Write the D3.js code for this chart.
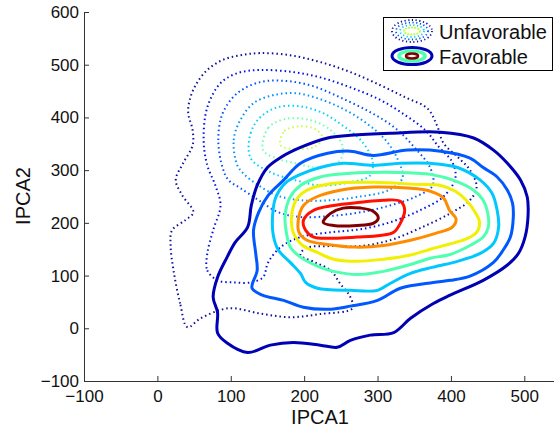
<!DOCTYPE html>
<html>
<head>
<meta charset="utf-8">
<script src="https://cdn.jsdelivr.net/npm/d3@7"></script>
<style>
  body { margin: 0; background: #fff; }
  svg { display: block; font-family: "Liberation Sans", Arial, sans-serif; }
</style>
</head>
<body>
<div id="chart"></div>
<script>
// axis ticks
const xTicks = [-100, 0, 100, 200, 300, 400, 500];
const yTicks = [-100, 0, 100, 200, 300, 400, 500, 600];
const legendLabels = ["Unfavorable", "Favorable"];

// unfavorable density contours (outer -> inner), [IPCA1, IPCA2]
const unfavColors = ["#10109c", "#0010e0", "#0050ff", "#0090ff", "#00d0ff", "#70ffb0", "#c0ff40"];
const unfav1 = [[41,2],[31,47],[22,110],[18,157],[20,186],[38,205],[49,220],[34,252],[25,281],[35,313],[48,347],[48,376],[42,408],[44,433],[52,461],[68,490],[89,509],[113,518],[140,522],[181,518],[222,505],[263,486],[304,461],[338,438],[368,417],[381,385],[390,351],[410,324],[426,300],[435,268],[426,243],[399,218],[358,190],[317,167],[277,156],[236,156],[202,152],[195,139],[215,125],[236,110],[249,85],[263,59],[266,38],[222,27],[181,21],[140,28],[97,38],[59,19]];
const unfav2 = [[68,142],[68,110],[82,91],[104,87],[127,87],[144,97],[151,125],[168,154],[195,173],[236,182],[277,188],[317,201],[358,224],[390,250],[406,285],[402,315],[383,345],[365,376],[338,404],[304,433],[263,457],[222,476],[185,486],[140,490],[109,484],[86,465],[68,419],[63,357],[68,309],[79,271],[86,233],[76,186]];
const unfav3 = [[89,304],[83,357],[89,408],[109,446],[140,467],[177,469],[213,459],[249,438],[290,410],[324,380],[351,342],[372,304],[375,271],[351,249],[317,233],[277,220],[236,213],[195,211],[165,220],[138,243],[113,266],[97,281]];
const unfav4 = [[109,309],[104,357],[113,395],[131,427],[157,442],[188,446],[219,436],[252,417],[283,391],[311,357],[328,319],[334,285],[315,262],[277,250],[236,243],[195,243],[163,252],[138,271],[120,290]];
const unfav5 = [[127,323],[127,370],[140,400],[163,419],[195,421],[226,408],[252,385],[277,357],[293,319],[290,290],[263,277],[222,271],[188,281],[154,296]];
const unfav6 = [[144,338],[151,380],[174,397],[208,395],[236,376],[252,347],[249,319],[222,305],[188,313],[161,323]];
const unfav7 = [[168,347],[173,374],[192,383],[215,378],[225,361],[215,345],[192,340]];
const unfavorable = [unfav1, unfav2, unfav3, unfav4, unfav5, unfav6, unfav7];

// favorable density contours (outer -> inner)
const favColors = ["#0000b4", "#0058ff", "#00c8ff", "#50ffb0", "#f0f000", "#ff8c00", "#ff1000", "#800000"];
const fav1 = [[123,192],[128,233],[136,271],[150,305],[168,324],[195,343],[232,361],[263,366],[317,370],[386,372],[431,361],[458,338],[477,313],[495,281],[504,249],[505,211],[501,173],[492,142],[477,120],[444,91],[399,63],[376,47],[345,19],[322,-8],[290,-13],[263,-23],[245,-36],[222,-32],[185,-27],[154,-32],[123,-46],[95,-28],[82,-9],[82,30],[76,59],[82,97],[95,135],[106,163]];
const fav2 = [[131,186],[138,220],[151,252],[172,281],[195,313],[232,332],[263,336],[294,328],[341,338],[386,336],[426,323],[444,305],[463,287],[477,262],[484,237],[485,211],[481,173],[471,148],[458,125],[426,99],[399,91],[376,87],[331,76],[300,53],[263,42],[232,36],[199,40],[172,53],[143,63],[129,76],[136,110],[134,142]];
const fav3 = [[157,214],[161,247],[174,275],[195,292],[222,305],[253,313],[294,309],[331,313],[372,313],[409,305],[440,281],[456,256],[463,224],[465,192],[458,161],[440,142],[409,127],[376,116],[345,104],[317,85],[300,72],[263,72],[218,76],[202,87],[195,104],[181,125],[165,148],[158,176]];
const fav4 = [[174,214],[181,249],[195,271],[222,287],[263,294],[311,296],[354,294],[372,292],[403,281],[431,262],[444,243],[450,220],[451,192],[444,173],[426,157],[399,140],[372,133],[345,121],[308,108],[272,102],[240,108],[218,118],[195,135],[181,154],[176,180]];
const fav5 = [[183,214],[189,243],[204,262],[240,275],[294,277],[354,273],[386,271],[406,260],[421,243],[433,220],[439,201],[435,182],[420,169],[396,159],[372,150],[345,139],[308,131],[272,127],[240,131],[218,144],[198,157],[185,182]];
const fav6 = [[192,205],[199,233],[218,250],[249,262],[294,268],[341,266],[372,260],[390,247],[398,224],[407,207],[402,192],[379,180],[345,167],[308,157],[270,154],[232,159],[204,167],[193,182]];
const fav7 = [[199,205],[213,224],[240,233],[277,239],[308,243],[331,241],[337,224],[331,199],[322,182],[304,176],[272,173],[240,171],[213,173],[202,186]];
const fav8 = [[226,201],[236,218],[253,228],[277,228],[294,222],[301,209],[294,199],[272,195],[240,195]];
const favorable = [fav1, fav2, fav3, fav4, fav5, fav6, fav7, fav8];

const width = 554;
const height = 429;

const svg = d3.select("#chart").append("svg")
    .attr("width", width)
    .attr("height", height);

const x = d3.scaleLinear().domain([-100, 550]).range([84, 561]);
const y = d3.scaleLinear().domain([-100, 600]).range([381, 12]);

const line = d3.line()
    .x(d => x(d[0]))
    .y(d => y(d[1]))
    .curve(d3.curveCatmullRomClosed.alpha(0.5));

// dotted contours first, solid ones on top
svg.append("g")
    .selectAll("path")
    .data(unfavorable)
    .enter().append("path")
    .attr("d", line)
    .attr("fill", "none")
    .attr("stroke", (_, i) => unfavColors[i])
    .attr("stroke-width", 2)
    .attr("stroke-dasharray", "1.5 3");

svg.append("g")
    .selectAll("path")
    .data(favorable)
    .enter().append("path")
    .attr("d", line)
    .attr("fill", "none")
    .attr("stroke", (_, i) => favColors[i])
    .attr("stroke-width", 3)
    .attr("stroke-linejoin", "round");

// axes, ticks pointing inward
const xAxis = svg.append("g")
    .attr("transform", "translate(0,381)")
    .call(d3.axisBottom(x).tickValues(xTicks).tickSizeInner(-5).tickSizeOuter(0).tickPadding(9));

const yAxis = svg.append("g")
    .attr("transform", "translate(84,0)")
    .call(d3.axisLeft(y).tickValues(yTicks).tickSizeInner(-5).tickSizeOuter(0).tickPadding(5));

[xAxis, yAxis].forEach(g => {
    g.selectAll("path, line").attr("stroke", "#333");
    g.selectAll("text")
        .attr("fill", "#111")
        .style("font-size", "17px")
        .style("font-family", "\"Liberation Sans\", Arial, sans-serif");
});

svg.append("text")
    .attr("x", 320)
    .attr("y", 424)
    .attr("text-anchor", "middle")
    .style("font-size", "20px")
    .attr("fill", "#111")
    .text("IPCA1");

svg.append("text")
    .attr("transform", "translate(30,196) rotate(-90)")
    .attr("text-anchor", "middle")
    .style("font-size", "20px")
    .attr("fill", "#111")
    .text("IPCA2");

// legend
const legend = svg.append("g");
legend.append("rect")
    .attr("x", 383.5).attr("y", 17.5)
    .attr("width", 169).attr("height", 53)
    .attr("fill", "#fff")
    .attr("stroke", "#000");

const unfavIcon = [[20, 11, 0], [16, 8.5, 2], [12, 6, 4], [8, 3.5, 6]];
legend.selectAll(".u")
    .data(unfavIcon)
    .enter().append("ellipse")
    .attr("cx", 412).attr("cy", 31)
    .attr("rx", d => d[0]).attr("ry", d => d[1])
    .attr("fill", "none")
    .attr("stroke", d => unfavColors[d[2]])
    .attr("stroke-width", 1.8)
    .attr("stroke-dasharray", (d, i) => i === 3 ? "2 1" : "1.2 2.5");

const favIcon = [[20, 8.5, 0, 3], [13, 5, 3, 3.5], [6, 2.5, 7, 2.5]];
legend.selectAll(".f")
    .data(favIcon)
    .enter().append("ellipse")
    .attr("cx", 412).attr("cy", 56)
    .attr("rx", d => d[0]).attr("ry", d => d[1])
    .attr("fill", "none")
    .attr("stroke", d => favColors[d[2]])
    .attr("stroke-width", d => d[3]);

legend.selectAll(".lbl")
    .data(legendLabels)
    .enter().append("text")
    .attr("x", 439)
    .attr("y", (_, i) => 39 + i * 25)
    .style("font-size", "20px")
    .attr("fill", "#111")
    .text(d => d);
</script>
</body>
</html>
